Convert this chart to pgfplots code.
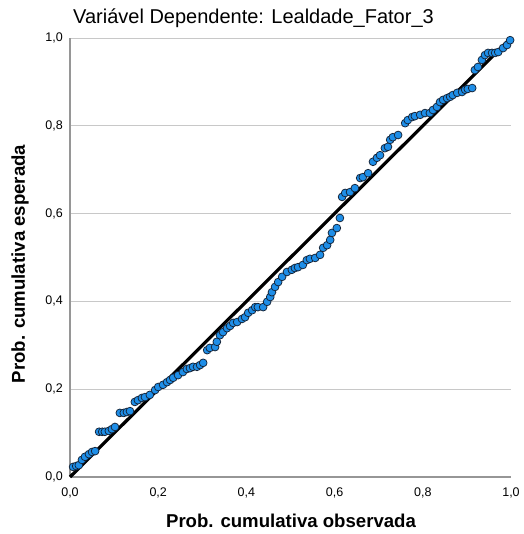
\documentclass[border=0pt]{standalone}
\usepackage{pgfplots}
\pgfplotsset{compat=1.18}
\usepackage{fontspec}
\setmainfont{Liberation Sans}
\definecolor{ptblue}{RGB}{30,142,232}
\definecolor{ptedge}{RGB}{20,35,55}
\definecolor{gridc}{RGB}{200,200,200}
\definecolor{axisc}{RGB}{150,150,150}
\begin{document}
\begin{tikzpicture}[x=1pt,y=1pt]
\useasboundingbox (0,0) rectangle (523,534);
\begin{axis}[
  at={(70pt,57pt)}, anchor=south west,
  width=441pt, height=439pt, scale only axis,
  xmin=0, xmax=1, ymin=0, ymax=1,
  axis x line*=bottom, axis y line*=left,
  axis line style={draw=axisc, line width=1.3pt, -},
  xtick={0,0.2,0.4,0.6,0.8,1.0},
  ytick={0,0.2,0.4,0.6,0.8,1.0},
  major tick length=0pt,
  ymajorgrids,
  grid style={draw=gridc, line width=0.9pt},
  /pgf/number format/assume math mode=true,
  /pgf/number format/.cd, fixed, fixed zerofill, precision=1, use comma,
  /pgfplots/.cd,
  tick label style={font=\fontsize{12.5}{14}\selectfont, inner sep=0pt},
  yticklabel style={anchor=east, xshift=-7pt},
  xticklabel style={anchor=north, yshift=-11pt},
  clip=false,
]
\addplot[only marks, mark=*, mark size=3.9pt,
  mark options={fill=ptblue, draw=ptedge, line width=0.75pt}] coordinates {
(0.007,0.023)(0.014,0.025)(0.020,0.027)(0.027,0.039)(0.034,0.046)(0.043,0.052)
(0.050,0.057)(0.057,0.059)(0.066,0.103)(0.073,0.103)(0.079,0.103)(0.088,0.105)
(0.095,0.109)(0.102,0.114)(0.113,0.146)(0.122,0.146)(0.129,0.148)(0.136,0.150)
(0.147,0.171)(0.154,0.175)(0.163,0.180)(0.170,0.182)(0.181,0.187)(0.193,0.198)
(0.200,0.205)(0.211,0.210)(0.220,0.216)(0.227,0.221)(0.234,0.226)(0.245,0.232)
(0.256,0.239)(0.265,0.246)(0.272,0.248)(0.279,0.251)(0.288,0.251)(0.295,0.255)
(0.302,0.260)(0.311,0.289)(0.317,0.294)(0.329,0.296)(0.333,0.308)(0.340,0.323)
(0.347,0.330)(0.356,0.339)(0.363,0.344)(0.370,0.351)(0.379,0.353)(0.390,0.360)
(0.397,0.364)(0.404,0.374)(0.413,0.380)(0.420,0.387)(0.426,0.387)(0.438,0.387)
(0.447,0.399)(0.454,0.410)(0.458,0.421)(0.465,0.433)(0.472,0.444)(0.481,0.456)
(0.492,0.467)(0.503,0.472)(0.510,0.476)(0.517,0.478)(0.528,0.483)(0.537,0.494)
(0.544,0.497)(0.556,0.499)(0.567,0.506)(0.574,0.522)(0.583,0.528)(0.590,0.540)
(0.594,0.556)(0.605,0.567)(0.612,0.590)(0.617,0.638)(0.624,0.647)(0.635,0.649)
(0.646,0.658)(0.658,0.681)(0.664,0.683)(0.676,0.692)(0.687,0.718)(0.696,0.727)
(0.703,0.733)(0.714,0.749)(0.721,0.752)(0.726,0.768)(0.732,0.774)(0.744,0.779)
(0.760,0.806)(0.766,0.813)(0.776,0.820)(0.782,0.822)(0.794,0.825)(0.805,0.829)
(0.816,0.829)(0.823,0.836)(0.832,0.843)(0.839,0.854)(0.846,0.859)(0.855,0.863)
(0.862,0.866)(0.868,0.870)(0.878,0.875)(0.889,0.877)(0.896,0.882)(0.902,0.884)
(0.912,0.886)(0.918,0.927)(0.925,0.934)(0.934,0.950)(0.941,0.961)(0.948,0.966)
(0.957,0.966)(0.964,0.966)(0.971,0.968)(0.982,0.977)(0.991,0.984)(0.998,0.995)
};
\addplot[black, line width=3.2pt, no marks] coordinates {(0,0)(1,1)};
\end{axis}
\node[anchor=base west, inner sep=0pt, font=\fontsize{20}{22}\selectfont] at (73,510) {Variável Dependente: Lealdade\_Fator\_3};
\node[anchor=base, inner sep=0pt, font=\fontsize{18.6}{20}\selectfont\bfseries] at (291,6) {Prob. cumulativa observada};
\node[anchor=center, inner sep=0pt, rotate=90, font=\fontsize{18.6}{20}\selectfont\bfseries] at (20,270) {Prob. cumulativa esperada};
\end{tikzpicture}
\end{document}
